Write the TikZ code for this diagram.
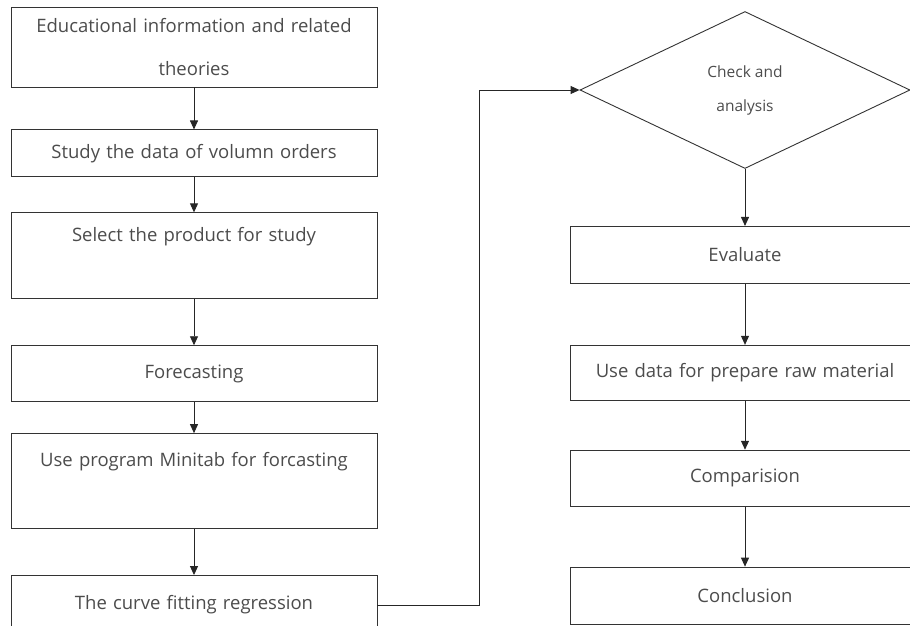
\documentclass[tikz,border=0pt]{standalone}
\usepackage{fontspec}
\setmainfont{Open Sans}
\usetikzlibrary{shapes,arrows.meta,positioning,calc}

\begin{document}
\begin{tikzpicture}[node distance=40pt, auto,
        block/.style={rectangle, draw=black!80, line width=0.9pt, text=black!70, text width=350pt, inner xsep=8pt, align=center, minimum height=56pt, font=\fontsize{18.5}{43}\selectfont},
        rblock/.style={block, text width=334pt},
        decision/.style={diamond, draw=black!80, line width=0.9pt, text=black!70, inner sep=0pt, minimum width=330pt, minimum height=157pt, align=center, font=\fontsize{15.5}{34}\selectfont},
        line/.style={draw=black!85, line width=0.9pt, -{Triangle[length=9pt,width=8pt]}}]
        \useasboundingbox (0,0) rectangle (910pt,-625pt);
        \clip (0,0) rectangle (910pt,-625pt);
        % left column
        \node [block, minimum height=80pt] (info) at (194pt,-47pt) {Educational information and related\\theories};
        \node [block, minimum height=47pt, below=42pt of info] (study) {Study the data of volumn orders};
        \node [block, minimum height=86pt, below=35pt of study] (select) {Select the product for study\\ \mbox{}};
        \node [block, below=46pt of select] (fore) {Forecasting};
        \node [block, minimum height=95pt, below=31pt of fore] (minitab) {Use program Minitab for forcasting\\ \mbox{}};
        \node [block, minimum height=59pt, below=46pt of minitab] (curve) {The curve fitting regression};
        % right column
        \node [decision] (check) at (745pt,-90pt) {Check and\\analysis};
        \node [rblock, minimum height=57pt, below=57pt of check] (eval) {Evaluate};
        \node [rblock, minimum height=55pt, below=61pt of eval] (raw) {Use data for prepare raw material};
        \node [rblock, below=49pt of raw] (comp) {Comparision};
        \node [rblock, minimum height=57pt, below=60pt of comp] (concl) {Conclusion};

        \path [line] (info) -- (study);
        \path [line] (study) -- (select);
        \path [line] (select) -- (fore);
        \path [line] (fore) -- (minitab);
        \path [line] (minitab) -- (curve);
        \path [line] (curve.east) -- ++(102pt,0) |- (check.west);
        \path [line] (check) -- (eval);
        \path [line] (eval) -- (raw);
        \path [line] (raw) -- (comp);
        \path [line] (comp) -- (concl);
    \end{tikzpicture}
\end{document}
